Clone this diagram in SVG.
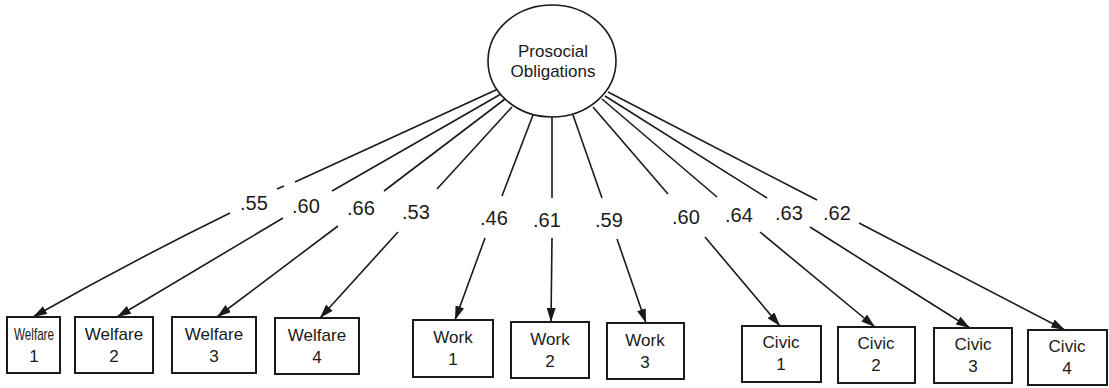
<svg xmlns="http://www.w3.org/2000/svg" width="1109" height="388" viewBox="0 0 1109 388">
  <defs>
    <style>
      .bg { fill: #ffffff; }
      .box { fill: #ffffff; stroke: #1a1a1a; stroke-width: 2; }
      .latent { fill: #ffffff; stroke: #1a1a1a; stroke-width: 1.6; }
      .lbl { font-family: "Liberation Sans", Arial, sans-serif; font-size: 17px; fill: #1a1a1a; text-anchor: middle; }
      .coef { font-family: "Liberation Sans", Arial, sans-serif; font-size: 20px; fill: #1a1a1a; }
      .path { fill: none; stroke: #1a1a1a; stroke-width: 1.6; }
      .arrow { fill: none; stroke: #1a1a1a; stroke-width: 1.6; marker-end: url(#head); }
    </style>
    <marker id="head" viewBox="0 0 14 9" refX="14" refY="4.5" markerWidth="14" markerHeight="9" markerUnits="userSpaceOnUse" orient="auto">
      <path d="M0,0 L14,4.5 L0,9 z" fill="#1a1a1a"/>
    </marker>
  </defs>

  <rect class="bg" x="0" y="0" width="1109" height="388"/>

  <!-- factor loadings: each path is broken where its coefficient sits -->
  <g id="connectors">
    <!-- Welfare 1 -->
    <path class="path" d="M498,89 L295,182"/>
    <path class="path" d="M284,186 L277,189"/>
    <path class="arrow" d="M230,213 Q130,262 33,317"/>
    <!-- Welfare 2 -->
    <path class="path" d="M501,94 L332,191"/>
    <path class="arrow" d="M283,218 L117,317"/>
    <!-- Welfare 3 -->
    <path class="path" d="M505,99 L384,191"/>
    <path class="arrow" d="M338,226 L217,317"/>
    <!-- Welfare 4 -->
    <path class="path" d="M512,107 L437,189"/>
    <path class="arrow" d="M398,232 L320,318"/>
    <!-- Work 1 -->
    <path class="path" d="M533,115 L502,196"/>
    <path class="arrow" d="M485,238 L455,320"/>
    <!-- Work 2 -->
    <path class="path" d="M552,117 L552,198"/>
    <path class="arrow" d="M552,238 L551,322"/>
    <!-- Work 3 -->
    <path class="path" d="M573,115 L602,198"/>
    <path class="arrow" d="M617,239 L646,323"/>
    <!-- Civic 1 -->
    <path class="path" d="M593,107 L668,194"/>
    <path class="arrow" d="M705,237 L780,326"/>
    <!-- Civic 2 -->
    <path class="path" d="M602,99 L717,197"/>
    <path class="arrow" d="M760,232 L875,327"/>
    <!-- Civic 3 -->
    <path class="path" d="M605,96 L767,198"/>
    <path class="arrow" d="M810,227 L970,328"/>
    <!-- Civic 4 -->
    <path class="path" d="M608,92 L817,200"/>
    <path class="arrow" d="M859,223 L1065,330"/>

    <!-- loading coefficients -->
    <text class="coef" x="240" y="210">.55</text>
    <text class="coef" x="292" y="213">.60</text>
    <text class="coef" x="347" y="215">.66</text>
    <text class="coef" x="402" y="219">.53</text>
    <text class="coef" x="480" y="225">.46</text>
    <text class="coef" x="533" y="227">.61</text>
    <text class="coef" x="595" y="227">.59</text>
    <text class="coef" x="672" y="224">.60</text>
    <text class="coef" x="725" y="222">.64</text>
    <text class="coef" x="775" y="220">.63</text>
    <text class="coef" x="823" y="220">.62</text>
  </g>

  <!-- latent factor -->
  <g id="prosocial">
    <ellipse class="latent" cx="552" cy="61" rx="64" ry="56"/>
    <text class="lbl" x="553" y="57">Prosocial</text>
    <text class="lbl" x="553" y="77">Obligations</text>
  </g>

  <!-- indicators -->
  <g id="welfare1">
    <rect class="box" x="7" y="317" width="53" height="56"/>
    <text class="lbl" x="34" y="340" textLength="40" lengthAdjust="spacingAndGlyphs">Welfare</text>
    <text class="lbl" x="34" y="362">1</text>
  </g>
  <g id="welfare2">
    <rect class="box" x="75" y="317" width="78" height="56"/>
    <text class="lbl" x="114" y="340">Welfare</text>
    <text class="lbl" x="114" y="362">2</text>
  </g>
  <g id="welfare3">
    <rect class="box" x="172" y="317" width="84" height="56"/>
    <text class="lbl" x="214" y="340">Welfare</text>
    <text class="lbl" x="214" y="362">3</text>
  </g>
  <g id="welfare4">
    <rect class="box" x="275" y="318" width="84" height="56"/>
    <text class="lbl" x="317" y="341">Welfare</text>
    <text class="lbl" x="317" y="363">4</text>
  </g>
  <g id="work1">
    <rect class="box" x="413" y="320" width="80" height="57"/>
    <text class="lbl" x="453" y="343">Work</text>
    <text class="lbl" x="453" y="365">1</text>
  </g>
  <g id="work2">
    <rect class="box" x="511" y="322" width="78" height="56"/>
    <text class="lbl" x="550" y="345">Work</text>
    <text class="lbl" x="550" y="367">2</text>
  </g>
  <g id="work3">
    <rect class="box" x="607" y="323" width="77" height="56"/>
    <text class="lbl" x="645" y="346">Work</text>
    <text class="lbl" x="645" y="368">3</text>
  </g>
  <g id="civic1">
    <rect class="box" x="742" y="326" width="79" height="56"/>
    <text class="lbl" x="781" y="348">Civic</text>
    <text class="lbl" x="781" y="370">1</text>
  </g>
  <g id="civic2">
    <rect class="box" x="838" y="327" width="77" height="56"/>
    <text class="lbl" x="876" y="349">Civic</text>
    <text class="lbl" x="876" y="371">2</text>
  </g>
  <g id="civic3">
    <rect class="box" x="934" y="328" width="78" height="55"/>
    <text class="lbl" x="973" y="350">Civic</text>
    <text class="lbl" x="973" y="372">3</text>
  </g>
  <g id="civic4">
    <rect class="box" x="1028" y="330" width="79" height="55"/>
    <text class="lbl" x="1067" y="352">Civic</text>
    <text class="lbl" x="1067" y="374">4</text>
  </g>
</svg>
